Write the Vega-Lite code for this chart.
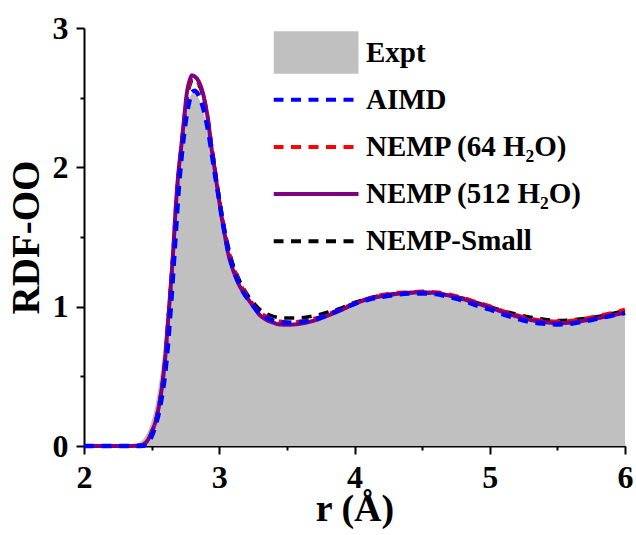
{
  "$schema": "https://vega.github.io/schema/vega-lite/v6.json",
  "width": 541,
  "height": 418,
  "autosize": {"type": "none"},
  "padding": {"left": 84, "top": 28, "right": 11, "bottom": 89},
  "background": "white",
  "config": {"view": {"stroke": null}, "font": "Liberation Serif"},
  "datasets": {
    "rdf": [
      {"series": "Expt", "r": 2.0, "g": 0}, {"series": "Expt", "r": 2.2, "g": 0}, {"series": "Expt", "r": 2.3, "g": 0},
      {"series": "Expt", "r": 2.35, "g": 0.005}, {"series": "Expt", "r": 2.4, "g": 0.02}, {"series": "Expt", "r": 2.44, "g": 0.05},
      {"series": "Expt", "r": 2.47, "g": 0.1}, {"series": "Expt", "r": 2.5, "g": 0.18}, {"series": "Expt", "r": 2.53, "g": 0.3},
      {"series": "Expt", "r": 2.56, "g": 0.48}, {"series": "Expt", "r": 2.58, "g": 0.63}, {"series": "Expt", "r": 2.6, "g": 0.82},
      {"series": "Expt", "r": 2.62, "g": 1.05}, {"series": "Expt", "r": 2.64, "g": 1.3}, {"series": "Expt", "r": 2.66, "g": 1.57},
      {"series": "Expt", "r": 2.68, "g": 1.82}, {"series": "Expt", "r": 2.7, "g": 2.02}, {"series": "Expt", "r": 2.72, "g": 2.2},
      {"series": "Expt", "r": 2.74, "g": 2.34}, {"series": "Expt", "r": 2.76, "g": 2.44}, {"series": "Expt", "r": 2.78, "g": 2.5},
      {"series": "Expt", "r": 2.8, "g": 2.53}, {"series": "Expt", "r": 2.82, "g": 2.53}, {"series": "Expt", "r": 2.84, "g": 2.51},
      {"series": "Expt", "r": 2.86, "g": 2.47}, {"series": "Expt", "r": 2.88, "g": 2.41}, {"series": "Expt", "r": 2.9, "g": 2.33},
      {"series": "Expt", "r": 2.92, "g": 2.23}, {"series": "Expt", "r": 2.94, "g": 2.12}, {"series": "Expt", "r": 2.96, "g": 2.0},
      {"series": "Expt", "r": 2.98, "g": 1.88}, {"series": "Expt", "r": 3.0, "g": 1.76}, {"series": "Expt", "r": 3.02, "g": 1.64},
      {"series": "Expt", "r": 3.04, "g": 1.53}, {"series": "Expt", "r": 3.06, "g": 1.43}, {"series": "Expt", "r": 3.1, "g": 1.27},
      {"series": "Expt", "r": 3.14, "g": 1.16}, {"series": "Expt", "r": 3.18, "g": 1.09}, {"series": "Expt", "r": 3.22, "g": 1.03},
      {"series": "Expt", "r": 3.26, "g": 0.98}, {"series": "Expt", "r": 3.3, "g": 0.935}, {"series": "Expt", "r": 3.35, "g": 0.9},
      {"series": "Expt", "r": 3.4, "g": 0.88}, {"series": "Expt", "r": 3.45, "g": 0.87}, {"series": "Expt", "r": 3.5, "g": 0.865},
      {"series": "Expt", "r": 3.6, "g": 0.87}, {"series": "Expt", "r": 3.7, "g": 0.89}, {"series": "Expt", "r": 3.8, "g": 0.925},
      {"series": "Expt", "r": 3.9, "g": 0.965}, {"series": "Expt", "r": 4.0, "g": 1.01}, {"series": "Expt", "r": 4.1, "g": 1.045},
      {"series": "Expt", "r": 4.2, "g": 1.07}, {"series": "Expt", "r": 4.3, "g": 1.085}, {"series": "Expt", "r": 4.4, "g": 1.095},
      {"series": "Expt", "r": 4.5, "g": 1.095}, {"series": "Expt", "r": 4.6, "g": 1.09}, {"series": "Expt", "r": 4.7, "g": 1.075},
      {"series": "Expt", "r": 4.8, "g": 1.05}, {"series": "Expt", "r": 4.9, "g": 1.02}, {"series": "Expt", "r": 5.0, "g": 0.99},
      {"series": "Expt", "r": 5.1, "g": 0.955}, {"series": "Expt", "r": 5.2, "g": 0.925}, {"series": "Expt", "r": 5.3, "g": 0.9},
      {"series": "Expt", "r": 5.4, "g": 0.885}, {"series": "Expt", "r": 5.5, "g": 0.88}, {"series": "Expt", "r": 5.6, "g": 0.885},
      {"series": "Expt", "r": 5.7, "g": 0.9}, {"series": "Expt", "r": 5.8, "g": 0.92}, {"series": "Expt", "r": 5.9, "g": 0.94},
      {"series": "Expt", "r": 6.0, "g": 0.955},

      {"series": "NEMP-Small", "r": 2.0, "g": 0}, {"series": "NEMP-Small", "r": 2.3, "g": 0}, {"series": "NEMP-Small", "r": 2.4, "g": 0.003},
      {"series": "NEMP-Small", "r": 2.44, "g": 0.01}, {"series": "NEMP-Small", "r": 2.47, "g": 0.04}, {"series": "NEMP-Small", "r": 2.5, "g": 0.1},
      {"series": "NEMP-Small", "r": 2.53, "g": 0.18}, {"series": "NEMP-Small", "r": 2.56, "g": 0.32}, {"series": "NEMP-Small", "r": 2.58, "g": 0.45},
      {"series": "NEMP-Small", "r": 2.6, "g": 0.63}, {"series": "NEMP-Small", "r": 2.62, "g": 0.88}, {"series": "NEMP-Small", "r": 2.64, "g": 1.13},
      {"series": "NEMP-Small", "r": 2.66, "g": 1.41}, {"series": "NEMP-Small", "r": 2.68, "g": 1.73}, {"series": "NEMP-Small", "r": 2.7, "g": 1.97},
      {"series": "NEMP-Small", "r": 2.72, "g": 2.15}, {"series": "NEMP-Small", "r": 2.74, "g": 2.34}, {"series": "NEMP-Small", "r": 2.76, "g": 2.49},
      {"series": "NEMP-Small", "r": 2.78, "g": 2.58}, {"series": "NEMP-Small", "r": 2.8, "g": 2.62}, {"series": "NEMP-Small", "r": 2.82, "g": 2.62},
      {"series": "NEMP-Small", "r": 2.84, "g": 2.6}, {"series": "NEMP-Small", "r": 2.86, "g": 2.57}, {"series": "NEMP-Small", "r": 2.88, "g": 2.51},
      {"series": "NEMP-Small", "r": 2.9, "g": 2.43}, {"series": "NEMP-Small", "r": 2.92, "g": 2.32}, {"series": "NEMP-Small", "r": 2.94, "g": 2.18},
      {"series": "NEMP-Small", "r": 2.96, "g": 2.05}, {"series": "NEMP-Small", "r": 2.98, "g": 1.91}, {"series": "NEMP-Small", "r": 3.0, "g": 1.78},
      {"series": "NEMP-Small", "r": 3.02, "g": 1.66}, {"series": "NEMP-Small", "r": 3.04, "g": 1.55}, {"series": "NEMP-Small", "r": 3.06, "g": 1.46},
      {"series": "NEMP-Small", "r": 3.1, "g": 1.31}, {"series": "NEMP-Small", "r": 3.14, "g": 1.21}, {"series": "NEMP-Small", "r": 3.18, "g": 1.13},
      {"series": "NEMP-Small", "r": 3.22, "g": 1.07}, {"series": "NEMP-Small", "r": 3.26, "g": 1.02}, {"series": "NEMP-Small", "r": 3.3, "g": 0.98},
      {"series": "NEMP-Small", "r": 3.35, "g": 0.95}, {"series": "NEMP-Small", "r": 3.4, "g": 0.93}, {"series": "NEMP-Small", "r": 3.45, "g": 0.92},
      {"series": "NEMP-Small", "r": 3.5, "g": 0.918}, {"series": "NEMP-Small", "r": 3.6, "g": 0.92}, {"series": "NEMP-Small", "r": 3.7, "g": 0.935},
      {"series": "NEMP-Small", "r": 3.8, "g": 0.96}, {"series": "NEMP-Small", "r": 3.9, "g": 0.99}, {"series": "NEMP-Small", "r": 4.0, "g": 1.03},
      {"series": "NEMP-Small", "r": 4.1, "g": 1.06}, {"series": "NEMP-Small", "r": 4.2, "g": 1.08}, {"series": "NEMP-Small", "r": 4.3, "g": 1.093},
      {"series": "NEMP-Small", "r": 4.4, "g": 1.1}, {"series": "NEMP-Small", "r": 4.5, "g": 1.1}, {"series": "NEMP-Small", "r": 4.6, "g": 1.095},
      {"series": "NEMP-Small", "r": 4.7, "g": 1.08}, {"series": "NEMP-Small", "r": 4.8, "g": 1.06}, {"series": "NEMP-Small", "r": 4.9, "g": 1.03},
      {"series": "NEMP-Small", "r": 5.0, "g": 1.0}, {"series": "NEMP-Small", "r": 5.1, "g": 0.97}, {"series": "NEMP-Small", "r": 5.2, "g": 0.945},
      {"series": "NEMP-Small", "r": 5.3, "g": 0.925}, {"series": "NEMP-Small", "r": 5.4, "g": 0.91}, {"series": "NEMP-Small", "r": 5.5, "g": 0.9},
      {"series": "NEMP-Small", "r": 5.6, "g": 0.905}, {"series": "NEMP-Small", "r": 5.7, "g": 0.915}, {"series": "NEMP-Small", "r": 5.8, "g": 0.93},
      {"series": "NEMP-Small", "r": 5.9, "g": 0.95}, {"series": "NEMP-Small", "r": 6.0, "g": 0.97},

      {"series": "NEMP (64 H₂O)", "r": 2.0, "g": 0}, {"series": "NEMP (64 H₂O)", "r": 2.3, "g": 0}, {"series": "NEMP (64 H₂O)", "r": 2.4, "g": 0.003},
      {"series": "NEMP (64 H₂O)", "r": 2.44, "g": 0.01}, {"series": "NEMP (64 H₂O)", "r": 2.47, "g": 0.04}, {"series": "NEMP (64 H₂O)", "r": 2.5, "g": 0.1},
      {"series": "NEMP (64 H₂O)", "r": 2.53, "g": 0.18}, {"series": "NEMP (64 H₂O)", "r": 2.56, "g": 0.32}, {"series": "NEMP (64 H₂O)", "r": 2.58, "g": 0.45},
      {"series": "NEMP (64 H₂O)", "r": 2.6, "g": 0.63}, {"series": "NEMP (64 H₂O)", "r": 2.62, "g": 0.88}, {"series": "NEMP (64 H₂O)", "r": 2.64, "g": 1.13},
      {"series": "NEMP (64 H₂O)", "r": 2.66, "g": 1.41}, {"series": "NEMP (64 H₂O)", "r": 2.68, "g": 1.73}, {"series": "NEMP (64 H₂O)", "r": 2.7, "g": 1.97},
      {"series": "NEMP (64 H₂O)", "r": 2.72, "g": 2.15}, {"series": "NEMP (64 H₂O)", "r": 2.74, "g": 2.34}, {"series": "NEMP (64 H₂O)", "r": 2.76, "g": 2.5},
      {"series": "NEMP (64 H₂O)", "r": 2.78, "g": 2.59}, {"series": "NEMP (64 H₂O)", "r": 2.8, "g": 2.63}, {"series": "NEMP (64 H₂O)", "r": 2.82, "g": 2.63},
      {"series": "NEMP (64 H₂O)", "r": 2.84, "g": 2.61}, {"series": "NEMP (64 H₂O)", "r": 2.86, "g": 2.58}, {"series": "NEMP (64 H₂O)", "r": 2.88, "g": 2.52},
      {"series": "NEMP (64 H₂O)", "r": 2.9, "g": 2.44}, {"series": "NEMP (64 H₂O)", "r": 2.92, "g": 2.33}, {"series": "NEMP (64 H₂O)", "r": 2.94, "g": 2.18},
      {"series": "NEMP (64 H₂O)", "r": 2.96, "g": 2.05}, {"series": "NEMP (64 H₂O)", "r": 2.98, "g": 1.91}, {"series": "NEMP (64 H₂O)", "r": 3.0, "g": 1.78},
      {"series": "NEMP (64 H₂O)", "r": 3.02, "g": 1.66}, {"series": "NEMP (64 H₂O)", "r": 3.04, "g": 1.55}, {"series": "NEMP (64 H₂O)", "r": 3.06, "g": 1.45},
      {"series": "NEMP (64 H₂O)", "r": 3.1, "g": 1.3}, {"series": "NEMP (64 H₂O)", "r": 3.14, "g": 1.2}, {"series": "NEMP (64 H₂O)", "r": 3.18, "g": 1.12},
      {"series": "NEMP (64 H₂O)", "r": 3.22, "g": 1.06}, {"series": "NEMP (64 H₂O)", "r": 3.26, "g": 1.005}, {"series": "NEMP (64 H₂O)", "r": 3.3, "g": 0.96},
      {"series": "NEMP (64 H₂O)", "r": 3.35, "g": 0.93}, {"series": "NEMP (64 H₂O)", "r": 3.4, "g": 0.905}, {"series": "NEMP (64 H₂O)", "r": 3.45, "g": 0.895},
      {"series": "NEMP (64 H₂O)", "r": 3.5, "g": 0.89}, {"series": "NEMP (64 H₂O)", "r": 3.6, "g": 0.895}, {"series": "NEMP (64 H₂O)", "r": 3.7, "g": 0.915},
      {"series": "NEMP (64 H₂O)", "r": 3.8, "g": 0.945}, {"series": "NEMP (64 H₂O)", "r": 3.9, "g": 0.985}, {"series": "NEMP (64 H₂O)", "r": 4.0, "g": 1.025},
      {"series": "NEMP (64 H₂O)", "r": 4.1, "g": 1.06}, {"series": "NEMP (64 H₂O)", "r": 4.2, "g": 1.085}, {"series": "NEMP (64 H₂O)", "r": 4.3, "g": 1.1},
      {"series": "NEMP (64 H₂O)", "r": 4.4, "g": 1.105}, {"series": "NEMP (64 H₂O)", "r": 4.5, "g": 1.11}, {"series": "NEMP (64 H₂O)", "r": 4.6, "g": 1.105},
      {"series": "NEMP (64 H₂O)", "r": 4.7, "g": 1.09}, {"series": "NEMP (64 H₂O)", "r": 4.8, "g": 1.065}, {"series": "NEMP (64 H₂O)", "r": 4.9, "g": 1.035},
      {"series": "NEMP (64 H₂O)", "r": 5.0, "g": 1.005}, {"series": "NEMP (64 H₂O)", "r": 5.1, "g": 0.97}, {"series": "NEMP (64 H₂O)", "r": 5.2, "g": 0.94},
      {"series": "NEMP (64 H₂O)", "r": 5.3, "g": 0.915}, {"series": "NEMP (64 H₂O)", "r": 5.4, "g": 0.9}, {"series": "NEMP (64 H₂O)", "r": 5.5, "g": 0.895},
      {"series": "NEMP (64 H₂O)", "r": 5.6, "g": 0.9}, {"series": "NEMP (64 H₂O)", "r": 5.7, "g": 0.915}, {"series": "NEMP (64 H₂O)", "r": 5.8, "g": 0.935},
      {"series": "NEMP (64 H₂O)", "r": 5.9, "g": 0.955}, {"series": "NEMP (64 H₂O)", "r": 6.0, "g": 0.98},

      {"series": "NEMP (512 H₂O)", "r": 2.0, "g": 0}, {"series": "NEMP (512 H₂O)", "r": 2.3, "g": 0}, {"series": "NEMP (512 H₂O)", "r": 2.4, "g": 0.003},
      {"series": "NEMP (512 H₂O)", "r": 2.44, "g": 0.012}, {"series": "NEMP (512 H₂O)", "r": 2.47, "g": 0.04}, {"series": "NEMP (512 H₂O)", "r": 2.5, "g": 0.1},
      {"series": "NEMP (512 H₂O)", "r": 2.53, "g": 0.18}, {"series": "NEMP (512 H₂O)", "r": 2.56, "g": 0.32}, {"series": "NEMP (512 H₂O)", "r": 2.58, "g": 0.45},
      {"series": "NEMP (512 H₂O)", "r": 2.6, "g": 0.63}, {"series": "NEMP (512 H₂O)", "r": 2.62, "g": 0.88}, {"series": "NEMP (512 H₂O)", "r": 2.64, "g": 1.13},
      {"series": "NEMP (512 H₂O)", "r": 2.66, "g": 1.41}, {"series": "NEMP (512 H₂O)", "r": 2.68, "g": 1.74}, {"series": "NEMP (512 H₂O)", "r": 2.7, "g": 1.98},
      {"series": "NEMP (512 H₂O)", "r": 2.72, "g": 2.16}, {"series": "NEMP (512 H₂O)", "r": 2.74, "g": 2.35}, {"series": "NEMP (512 H₂O)", "r": 2.76, "g": 2.53},
      {"series": "NEMP (512 H₂O)", "r": 2.78, "g": 2.62}, {"series": "NEMP (512 H₂O)", "r": 2.8, "g": 2.66}, {"series": "NEMP (512 H₂O)", "r": 2.82, "g": 2.65},
      {"series": "NEMP (512 H₂O)", "r": 2.84, "g": 2.63}, {"series": "NEMP (512 H₂O)", "r": 2.86, "g": 2.59}, {"series": "NEMP (512 H₂O)", "r": 2.88, "g": 2.53},
      {"series": "NEMP (512 H₂O)", "r": 2.9, "g": 2.44}, {"series": "NEMP (512 H₂O)", "r": 2.92, "g": 2.32}, {"series": "NEMP (512 H₂O)", "r": 2.94, "g": 2.16},
      {"series": "NEMP (512 H₂O)", "r": 2.96, "g": 2.03}, {"series": "NEMP (512 H₂O)", "r": 2.98, "g": 1.89}, {"series": "NEMP (512 H₂O)", "r": 3.0, "g": 1.76},
      {"series": "NEMP (512 H₂O)", "r": 3.02, "g": 1.63}, {"series": "NEMP (512 H₂O)", "r": 3.04, "g": 1.52}, {"series": "NEMP (512 H₂O)", "r": 3.06, "g": 1.41},
      {"series": "NEMP (512 H₂O)", "r": 3.1, "g": 1.27}, {"series": "NEMP (512 H₂O)", "r": 3.14, "g": 1.17}, {"series": "NEMP (512 H₂O)", "r": 3.18, "g": 1.1},
      {"series": "NEMP (512 H₂O)", "r": 3.22, "g": 1.045}, {"series": "NEMP (512 H₂O)", "r": 3.26, "g": 0.99}, {"series": "NEMP (512 H₂O)", "r": 3.3, "g": 0.94},
      {"series": "NEMP (512 H₂O)", "r": 3.35, "g": 0.905}, {"series": "NEMP (512 H₂O)", "r": 3.4, "g": 0.885}, {"series": "NEMP (512 H₂O)", "r": 3.45, "g": 0.872},
      {"series": "NEMP (512 H₂O)", "r": 3.5, "g": 0.87}, {"series": "NEMP (512 H₂O)", "r": 3.6, "g": 0.878}, {"series": "NEMP (512 H₂O)", "r": 3.7, "g": 0.9},
      {"series": "NEMP (512 H₂O)", "r": 3.8, "g": 0.935}, {"series": "NEMP (512 H₂O)", "r": 3.9, "g": 0.975}, {"series": "NEMP (512 H₂O)", "r": 4.0, "g": 1.02},
      {"series": "NEMP (512 H₂O)", "r": 4.1, "g": 1.055}, {"series": "NEMP (512 H₂O)", "r": 4.2, "g": 1.075}, {"series": "NEMP (512 H₂O)", "r": 4.3, "g": 1.09},
      {"series": "NEMP (512 H₂O)", "r": 4.4, "g": 1.1}, {"series": "NEMP (512 H₂O)", "r": 4.5, "g": 1.103}, {"series": "NEMP (512 H₂O)", "r": 4.6, "g": 1.098},
      {"series": "NEMP (512 H₂O)", "r": 4.7, "g": 1.08}, {"series": "NEMP (512 H₂O)", "r": 4.8, "g": 1.055}, {"series": "NEMP (512 H₂O)", "r": 4.9, "g": 1.025},
      {"series": "NEMP (512 H₂O)", "r": 5.0, "g": 0.995}, {"series": "NEMP (512 H₂O)", "r": 5.1, "g": 0.96}, {"series": "NEMP (512 H₂O)", "r": 5.2, "g": 0.93},
      {"series": "NEMP (512 H₂O)", "r": 5.3, "g": 0.905}, {"series": "NEMP (512 H₂O)", "r": 5.4, "g": 0.89}, {"series": "NEMP (512 H₂O)", "r": 5.5, "g": 0.882},
      {"series": "NEMP (512 H₂O)", "r": 5.6, "g": 0.885}, {"series": "NEMP (512 H₂O)", "r": 5.7, "g": 0.9}, {"series": "NEMP (512 H₂O)", "r": 5.8, "g": 0.918},
      {"series": "NEMP (512 H₂O)", "r": 5.9, "g": 0.937}, {"series": "NEMP (512 H₂O)", "r": 6.0, "g": 0.957},

      {"series": "AIMD", "r": 2.0, "g": 0}, {"series": "AIMD", "r": 2.3, "g": 0}, {"series": "AIMD", "r": 2.42, "g": 0},
      {"series": "AIMD", "r": 2.45, "g": 0.005}, {"series": "AIMD", "r": 2.48, "g": 0.03}, {"series": "AIMD", "r": 2.5, "g": 0.07},
      {"series": "AIMD", "r": 2.53, "g": 0.15}, {"series": "AIMD", "r": 2.56, "g": 0.27}, {"series": "AIMD", "r": 2.58, "g": 0.38},
      {"series": "AIMD", "r": 2.6, "g": 0.52}, {"series": "AIMD", "r": 2.62, "g": 0.72}, {"series": "AIMD", "r": 2.64, "g": 0.97},
      {"series": "AIMD", "r": 2.66, "g": 1.25}, {"series": "AIMD", "r": 2.68, "g": 1.55}, {"series": "AIMD", "r": 2.7, "g": 1.84},
      {"series": "AIMD", "r": 2.72, "g": 2.06}, {"series": "AIMD", "r": 2.74, "g": 2.24}, {"series": "AIMD", "r": 2.76, "g": 2.38},
      {"series": "AIMD", "r": 2.78, "g": 2.48}, {"series": "AIMD", "r": 2.8, "g": 2.54}, {"series": "AIMD", "r": 2.82, "g": 2.55},
      {"series": "AIMD", "r": 2.84, "g": 2.53}, {"series": "AIMD", "r": 2.86, "g": 2.49}, {"series": "AIMD", "r": 2.88, "g": 2.43},
      {"series": "AIMD", "r": 2.9, "g": 2.35}, {"series": "AIMD", "r": 2.92, "g": 2.25}, {"series": "AIMD", "r": 2.94, "g": 2.13},
      {"series": "AIMD", "r": 2.96, "g": 2.0}, {"series": "AIMD", "r": 2.98, "g": 1.88}, {"series": "AIMD", "r": 3.0, "g": 1.76},
      {"series": "AIMD", "r": 3.02, "g": 1.64}, {"series": "AIMD", "r": 3.04, "g": 1.53}, {"series": "AIMD", "r": 3.06, "g": 1.43},
      {"series": "AIMD", "r": 3.1, "g": 1.28}, {"series": "AIMD", "r": 3.14, "g": 1.18}, {"series": "AIMD", "r": 3.18, "g": 1.1},
      {"series": "AIMD", "r": 3.22, "g": 1.045}, {"series": "AIMD", "r": 3.26, "g": 0.995}, {"series": "AIMD", "r": 3.3, "g": 0.95},
      {"series": "AIMD", "r": 3.35, "g": 0.92}, {"series": "AIMD", "r": 3.4, "g": 0.9}, {"series": "AIMD", "r": 3.45, "g": 0.89},
      {"series": "AIMD", "r": 3.5, "g": 0.885}, {"series": "AIMD", "r": 3.6, "g": 0.89}, {"series": "AIMD", "r": 3.7, "g": 0.905},
      {"series": "AIMD", "r": 3.8, "g": 0.94}, {"series": "AIMD", "r": 3.9, "g": 0.98}, {"series": "AIMD", "r": 4.0, "g": 1.02},
      {"series": "AIMD", "r": 4.1, "g": 1.05}, {"series": "AIMD", "r": 4.2, "g": 1.07}, {"series": "AIMD", "r": 4.3, "g": 1.085},
      {"series": "AIMD", "r": 4.4, "g": 1.095}, {"series": "AIMD", "r": 4.5, "g": 1.095}, {"series": "AIMD", "r": 4.6, "g": 1.09},
      {"series": "AIMD", "r": 4.7, "g": 1.07}, {"series": "AIMD", "r": 4.8, "g": 1.045}, {"series": "AIMD", "r": 4.9, "g": 1.01},
      {"series": "AIMD", "r": 5.0, "g": 0.98}, {"series": "AIMD", "r": 5.1, "g": 0.945}, {"series": "AIMD", "r": 5.2, "g": 0.915},
      {"series": "AIMD", "r": 5.3, "g": 0.89}, {"series": "AIMD", "r": 5.4, "g": 0.878}, {"series": "AIMD", "r": 5.5, "g": 0.872},
      {"series": "AIMD", "r": 5.6, "g": 0.878}, {"series": "AIMD", "r": 5.7, "g": 0.895}, {"series": "AIMD", "r": 5.8, "g": 0.915},
      {"series": "AIMD", "r": 5.9, "g": 0.935}, {"series": "AIMD", "r": 6.0, "g": 0.955}
    ]
  },
  "data": {"name": "rdf"},
  "encoding": {
    "x": {
      "field": "r", "type": "quantitative",
      "scale": {"domain": [2, 6], "nice": false, "zero": false},
      "axis": {
        "title": "r (Å)",
        "values": [2, 2.5, 3, 3.5, 4, 4.5, 5, 5.5, 6],
        "format": ".0f",
        "labelExpr": "datum.value % 1 === 0 ? datum.label : ''",
        "tickSize": {"condition": {"test": "datum.value % 1 === 0", "value": 8}, "value": 4},
        "grid": false, "labelFlush": false, "labelOverlap": false,
        "domainColor": "black", "domainWidth": 2, "tickColor": "black", "tickWidth": 2,
        "labelFont": "Liberation Serif", "labelFontWeight": "bold", "labelFontSize": 32, "labelColor": "black", "labelPadding": 8,
        "titleFont": "Liberation Serif", "titleFontWeight": "bold", "titleFontSize": 38, "titleColor": "black", "titlePadding": -3
      }
    },
    "y": {
      "field": "g", "type": "quantitative",
      "scale": {"domain": [0, 3], "nice": false},
      "axis": {
        "title": "RDF-OO",
        "values": [0, 0.5, 1, 1.5, 2, 2.5, 3],
        "format": ".0f",
        "labelExpr": "datum.value % 1 === 0 ? datum.label : ''",
        "tickSize": {"condition": {"test": "datum.value % 1 === 0", "value": 8}, "value": 4},
        "grid": false, "labelFlush": false, "labelOverlap": false,
        "domainColor": "black", "domainWidth": 2, "tickColor": "black", "tickWidth": 2,
        "labelFont": "Liberation Serif", "labelFontWeight": "bold", "labelFontSize": 32, "labelColor": "black", "labelPadding": 8,
        "titleFont": "Liberation Serif", "titleFontWeight": "bold", "titleFontSize": 39, "titleColor": "black", "titlePadding": 6
      }
    },
    "color": {
      "field": "series", "type": "nominal",
      "scale": {
        "domain": ["Expt", "AIMD", "NEMP (64 H₂O)", "NEMP (512 H₂O)", "NEMP-Small"],
        "range": ["#c0c0c0", "#0000ff", "#ff0000", "#800080", "#000000"]
      },
      "legend": {
        "orient": "none", "legendX": 189.5, "legendY": 3, "title": null,
        "padding": 0, "offset": 0,
        "symbolType": "M-2,0H2", "symbolSize": 1806.25, "symbolStrokeWidth": 4, "symbolOffset": 28,
        "clipHeight": 43,
        "labelFont": "Liberation Serif", "labelFontWeight": "bold", "labelFontSize": 29, "labelColor": "black",
        "labelOffset": 35.5, "labelLimit": 400, "rowPadding": 4.2,
        "encode": {
          "symbols": {
            "update": {
              "shape": {"signal": "datum.value === 'Expt' ? 'M-2,-1H2V1H-2Z' : 'M-2,0H2'"},
              "fill": {"signal": "datum.value === 'Expt' ? '#c0c0c0' : 'transparent'"},
              "stroke": {"signal": "datum.value === 'Expt' ? 'transparent' : scale('color', datum.value)"},
              "strokeDash": {"signal": "scale('strokeDash', datum.value)"},
              "strokeWidth": {"signal": "datum.value === 'Expt' ? 0 : 4"},
              "opacity": {"value": 1}
            }
          }
        }
      }
    }
  },
  "layer": [
    {
      "transform": [{"filter": "datum.series === 'Expt'"}],
      "mark": {"type": "area", "interpolate": "monotone", "opacity": 1}
    },
    {
      "transform": [{"filter": "datum.series === 'NEMP-Small'"}],
      "mark": {"type": "line", "interpolate": "monotone", "strokeWidth": 3.5},
      "encoding": {"strokeDash": {"field": "series", "type": "nominal", "legend": null,
        "scale": {"domain": ["Expt", "AIMD", "NEMP (64 H₂O)", "NEMP (512 H₂O)", "NEMP-Small"], "range": [[1, 0], [10, 7.5], [10, 7.5], [1, 0], [10, 7.5]]}}}
    },
    {
      "transform": [{"filter": "datum.series === 'NEMP (64 H₂O)'"}],
      "mark": {"type": "line", "interpolate": "monotone", "strokeWidth": 3.5},
      "encoding": {"strokeDash": {"field": "series", "type": "nominal", "legend": null}}
    },
    {
      "transform": [{"filter": "datum.series === 'NEMP (512 H₂O)'"}],
      "mark": {"type": "line", "interpolate": "monotone", "strokeWidth": 4},
      "encoding": {"strokeDash": {"field": "series", "type": "nominal", "legend": null}}
    },
    {
      "transform": [{"filter": "datum.series === 'AIMD'"}],
      "mark": {"type": "line", "interpolate": "monotone", "strokeWidth": 4.5},
      "encoding": {"strokeDash": {"field": "series", "type": "nominal", "legend": null}}
    }
  ]
}
